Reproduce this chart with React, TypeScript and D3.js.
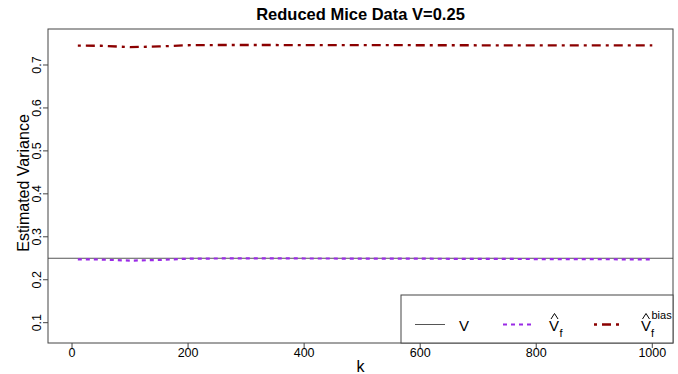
import React from "react";
import * as d3 from "d3";

const kValues = [10, 50, 100, 150, 200, 250, 300, 350, 400, 450, 500, 550, 600, 650, 700, 750, 800, 850, 900, 950, 1000];
const biasValues = [0.745, 0.7448, 0.7415, 0.7432, 0.746, 0.7465, 0.7466, 0.7465, 0.7464, 0.7463, 0.7462, 0.7461, 0.746, 0.746, 0.7459, 0.7458, 0.7458, 0.7457, 0.7457, 0.7456, 0.7456];
const vfValues = [0.2476, 0.247, 0.2445, 0.246, 0.249, 0.2495, 0.2496, 0.2496, 0.2495, 0.2494, 0.2493, 0.2492, 0.249, 0.2488, 0.2486, 0.2484, 0.2482, 0.248, 0.2478, 0.2476, 0.2475];
const trueV = 0.25;
const xTicks = [0, 200, 400, 600, 800, 1000];
const yTicks = [0.1, 0.2, 0.3, 0.4, 0.5, 0.6, 0.7];
const titleText = "Reduced Mice Data V=0.25";

const W = 678, H = 374;
const L = 48, R = 673, T = 29, B = 343;
const font = "Liberation Sans, Arial, Helvetica, sans-serif";

function Hat({ cx, base }: { cx: number; base: number }) {
  return (
    <path d={`M${cx - 3.5},${base} L${cx},${base - 5.5} L${cx + 3.5},${base}`} fill="none" stroke="#000" strokeWidth={1} />
  );
}

export default function App() {
  const x = d3.scaleLinear().domain([-41.4, 1035.7]).range([L, R]);
  const y = d3.scaleLinear().domain([0.0527, 0.7838]).range([B, T]);
  const line = d3.line<number>().x((_, i) => x(kValues[i])).y((d) => y(d)).curve(d3.curveLinear);
  const red = "#8B0000";
  const purple = "#9A2BE6";
  const axisCol = "#444";
  const biasDash = "3,5,9,5";
  const vfDash = "4,4";
  const legTop = 295, legLeft = 401;
  const legY = 324.5;
  return (
    <svg width={W} height={H} style={{ display: "block", position: "absolute", left: 0, top: 0 }} fontFamily={font}>
      <rect x={0} y={0} width={W} height={H} fill="white" />
      <text x={(L + R) / 2} y={19.5} textAnchor="middle" fontWeight="bold" fontSize={16.5}>{titleText}</text>
      {/* data lines */}
      <line x1={L} x2={R} y1={y(trueV)} y2={y(trueV)} stroke="#555" strokeWidth={1} />
      <path d={line(vfValues) || ""} fill="none" stroke={purple} strokeWidth={2.2} strokeDasharray={vfDash} />
      <path d={line(biasValues) || ""} fill="none" stroke={red} strokeWidth={2.3} strokeDasharray={biasDash} />
      {/* box */}
      <rect x={L} y={T} width={R - L} height={B - T} fill="none" stroke={axisCol} strokeWidth={1} />
      {/* x axis */}
      {xTicks.map((t) => (
        <g key={"x" + t}>
          <line x1={x(t)} x2={x(t)} y1={B} y2={B + 5} stroke={axisCol} />
          <text x={x(t)} y={356.7} textAnchor="middle" fontSize={12.5}>{t}</text>
        </g>
      ))}
      <text x={(L + R) / 2} y={372} textAnchor="middle" fontSize={16}>k</text>
      {/* y axis */}
      {yTicks.map((t) => (
        <g key={"y" + t}>
          <line x1={L - 5} x2={L} y1={y(t)} y2={y(t)} stroke={axisCol} />
          <text transform={`translate(40.5,${y(t)}) rotate(-90)`} textAnchor="middle" fontSize={12.5}>{t.toFixed(1)}</text>
        </g>
      ))}
      <text transform={`translate(28.5,${(T + B) / 2 - 3}) rotate(-90)`} textAnchor="middle" fontSize={16}>Estimated Variance</text>
      {/* legend */}
      <rect x={legLeft} y={legTop} width={R - legLeft} height={B - legTop} fill="white" stroke={axisCol} strokeWidth={1} />
      <line x1={415} x2={445} y1={legY} y2={legY} stroke="#555" strokeWidth={1} />
      <text x={459} y={331} fontSize={15}>V</text>
      <line x1={503} x2={533} y1={legY} y2={legY} stroke={purple} strokeWidth={2.2} strokeDasharray={vfDash} />
      <text x={549} y={331} fontSize={15}>V</text>
      <Hat cx={554.5} base={319} />
      <text x={559.5} y={336.5} fontSize={11}>f</text>
      <line x1={594} x2={621} y1={legY} y2={legY} stroke={red} strokeWidth={2.3} strokeDasharray={biasDash} />
      <text x={641} y={331} fontSize={15}>V</text>
      <Hat cx={646} base={319} />
      <text x={651} y={336.5} fontSize={11}>f</text>
      <text x={651.5} y={319} fontSize={11}>bias</text>
    </svg>
  );
}
